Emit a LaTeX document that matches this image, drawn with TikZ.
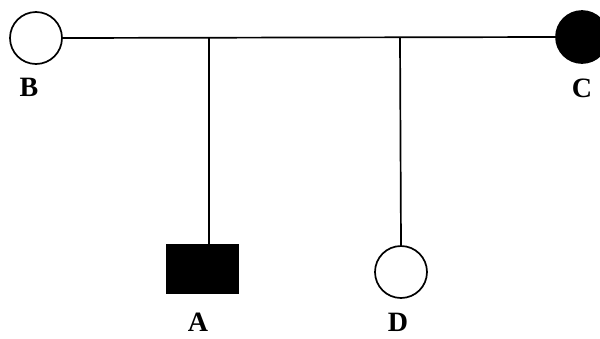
\documentclass[tikz,border=0pt]{standalone}
\usepackage{fontspec}
\setmainfont{Liberation Serif}
\usepackage{tikz}
\usetikzlibrary{calc}

\begin{document}
\begin{tikzpicture}[x=1pt, y=-1pt, line width=1.7pt,
    female/.style={draw, circle, minimum size=52pt, inner sep=0pt},
    male/.style={draw, rectangle, minimum width=71pt, minimum height=48pt, inner sep=0pt},
    person/.style={font=\fontsize{28}{29}\selectfont\bfseries, inner sep=0pt}]
  \useasboundingbox (0,0) rectangle (600,338);
  % parents on the mating line
  \node[female] (B) at (36, 38) {};
  \node[female, fill=black] (C) at (582, 37) {};
  \draw (B.east) -- (C.west);
  \coordinate (jA) at (209, 38);
  \coordinate (jD) at (400, 38);
  % children
  \node[male, fill=black] (A) at (202.5, 269) {};
  \node[female] (D) at (401, 272) {};
  \draw (jA) -- (jA |- A.north);
  \draw (jD) -- (D.north);
  % labels
  \node[person] (lblB) at (29, 87) {B};
  \node[person] (lblC) at (582, 88) {C};
  \node[person] (lblA) at (198, 322) {A};
  \node[person] (lblD) at (398, 322) {D};
\end{tikzpicture}
\end{document}
